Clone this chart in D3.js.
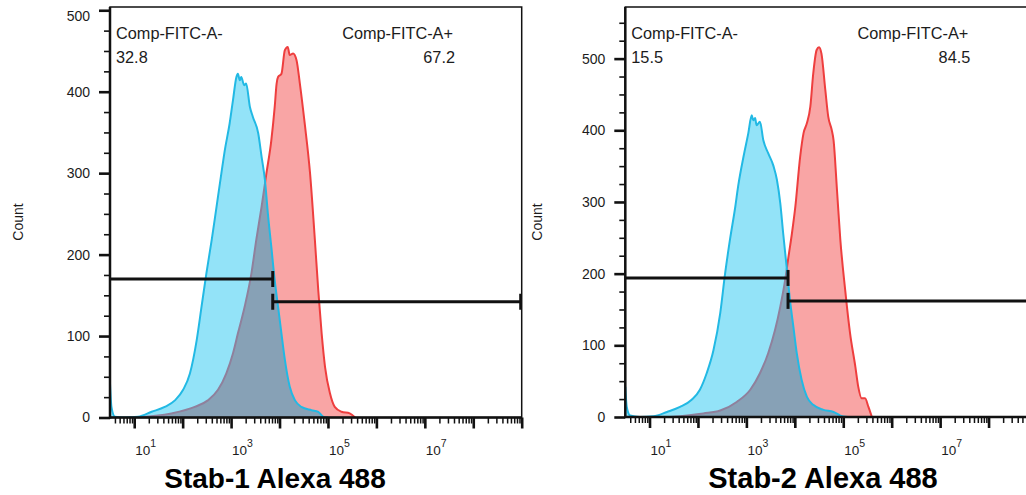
<!DOCTYPE html>
<html>
<head>
<meta charset="utf-8">
<script src="https://cdn.jsdelivr.net/npm/d3@7"></script>
<style>
  body { margin: 0; background: #fff; }
  svg { display: block; }
  text { font-family: Arial, "Liberation Sans", sans-serif; }
</style>
</head>
<body>
<svg id="chart" width="1026" height="495"></svg>
<script>
// Histogram outlines as [log10 Comp-FITC-A intensity, event count]
const stab1Unstained = [[0.5,42],[0.53,13],[0.6,1],[0.8,0],[1.08,1],[1.36,7],[1.63,13],[1.84,21],[2.01,34],[2.15,54],[2.29,95],[2.39,136],[2.49,177],[2.6,218],[2.7,259],[2.8,300],[2.87,328],[2.97,361],[3.04,390],[3.11,418],[3.14,422],[3.18,414],[3.21,418],[3.27,408],[3.31,410],[3.39,381],[3.45,369],[3.56,349],[3.63,320],[3.7,291],[3.76,250],[3.83,210],[3.9,169],[3.97,136],[4.04,103],[4.11,71],[4.21,38],[4.32,21],[4.45,13],[4.66,9],[4.8,7],[4.9,1],[5.0,0]];
const stab1Stained = [[1.0,0],[1.77,5],[2.25,13],[2.52,21],[2.73,34],[2.9,54],[3.04,79],[3.14,103],[3.28,136],[3.42,177],[3.52,218],[3.63,259],[3.73,300],[3.83,340],[3.9,381],[3.94,410],[3.97,418],[4.04,422],[4.11,451],[4.17,455],[4.21,445],[4.28,447],[4.35,439],[4.42,410],[4.52,361],[4.63,300],[4.73,218],[4.8,156],[4.87,103],[4.94,62],[5.04,30],[5.14,13],[5.28,7],[5.45,5],[5.56,0]];
const stab2Unstained = [[0.5,42],[0.53,14],[0.6,2],[0.8,0],[1.08,1],[1.36,7],[1.63,14],[1.87,24],[2.04,38],[2.18,61],[2.32,93],[2.46,145],[2.56,200],[2.66,247],[2.77,293],[2.83,322],[2.94,363],[3.04,396],[3.11,421],[3.14,414],[3.18,417],[3.21,407],[3.28,412],[3.35,386],[3.45,368],[3.56,350],[3.63,331],[3.7,298],[3.76,256],[3.83,210],[3.9,163],[3.97,126],[4.04,89],[4.14,52],[4.25,28],[4.38,17],[4.59,10],[4.8,7],[4.94,2],[5.1,0]];
const stab2Stained = [[1.42,0],[2.11,5],[2.46,9],[2.8,21],[3.08,38],[3.28,61],[3.45,89],[3.59,121],[3.7,154],[3.8,191],[3.87,224],[3.94,256],[4.01,293],[4.11,363],[4.18,396],[4.25,410],[4.32,433],[4.38,479],[4.45,512],[4.5,516],[4.55,507],[4.63,456],[4.69,419],[4.76,401],[4.8,386],[4.87,317],[4.94,247],[5.04,177],[5.14,117],[5.25,70],[5.31,42],[5.38,26],[5.45,26],[5.52,14],[5.59,0]];

// Gates: names, frequencies (% of parent), split point (log10) and marker heights (count)
const gateNames = ["Comp-FITC-A-", "Comp-FITC-A+"];
const stab1GateFreq = ["32.8", "67.2"];
const stab2GateFreq = ["15.5", "84.5"];
const gateSplitLog = 3.86;
const stab1GateLevels = [170, 142];
const stab2GateLevels = [194, 162];

// Axis ticks
const xLabelExponents = [1, 3, 5, 7];
const yMajorTicks = [0, 100, 200, 300, 400, 500];
const xDomainLog = [0.5, 9];

const titles = ["Stab-1 Alexa 488", "Stab-2 Alexa 488"];

const panels = [
  { id: "p1", neg: stab1Unstained, pos: stab1Stained, freq: stab1GateFreq, levels: stab1GateLevels,
    title: titles[0], left: 110, right: 521.7, top: 7, bottom: 417.5, yMax: 504,
    titleX: 275, titleSize: 28, countX: 18 },
  { id: "p2", neg: stab2Unstained, pos: stab2Stained, freq: stab2GateFreq, levels: stab2GateLevels,
    title: titles[1], left: 625.3, right: 1037, top: 7, bottom: 417, yMax: 572,
    titleX: 823, titleSize: 29, countX: 537 }
];

const COLORS = {
  negLine: "#22b9e4", negFill: "#93e3f8",
  posLine: "#ee3e3e", posFill: "#f9a5a5",
  overlapFill: "#87a1b6", posLineHidden: "#8f809c",
  ink: "#111", label: "#1c1c1c"
};

const svg = d3.select("#chart");
const defs = svg.append("defs");

panels.forEach(p => {
  const x = d3.scaleLog().domain(xDomainLog.map(e => Math.pow(10, e))).range([p.left, p.right]);
  const y = d3.scaleLinear().domain([0, p.yMax]).range([p.bottom, p.top]);
  const xv = d => x(Math.pow(10, d[0]));

  const area = d3.area().x(xv).y0(y(0)).y1(d => y(d[1])).curve(d3.curveMonotoneX);
  const line = d3.line().x(xv).y(d => y(d[1])).curve(d3.curveMonotoneX);

  // clip to the plotting region
  defs.append("clipPath").attr("id", p.id + "-plot")
    .append("rect").attr("x", p.left).attr("y", p.top)
    .attr("width", p.right - p.left).attr("height", p.bottom - p.top);
  // clip to the unstained histogram's filled area
  defs.append("clipPath").attr("id", p.id + "-neg")
    .append("path").attr("d", area(p.neg));

  const g = svg.append("g").attr("clip-path", `url(#${p.id}-plot)`);

  g.append("path").attr("d", area(p.pos)).attr("fill", COLORS.posFill);
  g.append("path").attr("d", line(p.pos)).attr("fill", "none")
    .attr("stroke", COLORS.posLine).attr("stroke-width", 2);
  g.append("path").attr("d", area(p.neg)).attr("fill", COLORS.negFill);

  const ov = g.append("g").attr("clip-path", `url(#${p.id}-neg)`);
  ov.append("path").attr("d", area(p.pos)).attr("fill", COLORS.overlapFill);
  ov.append("path").attr("d", line(p.pos)).attr("fill", "none")
    .attr("stroke", COLORS.posLineHidden).attr("stroke-width", 2);

  g.append("path").attr("d", line(p.neg)).attr("fill", "none")
    .attr("stroke", COLORS.negLine).attr("stroke-width", 2);

  // gates
  const xs = x(Math.pow(10, gateSplitLog));
  const gates = [
    { x0: p.left, x1: xs, lvl: p.levels[0], bars: [xs] },
    { x0: xs, x1: p.right, lvl: p.levels[1], bars: [xs, p.right - 1] }
  ];
  gates.forEach(gt => {
    const gy = y(gt.lvl);
    g.append("line").attr("x1", gt.x0).attr("x2", gt.x1).attr("y1", gy).attr("y2", gy)
      .attr("stroke", COLORS.ink).attr("stroke-width", 3);
    gt.bars.forEach(bx => {
      g.append("line").attr("x1", bx).attr("x2", bx).attr("y1", gy - 8).attr("y2", gy + 8)
        .attr("stroke", COLORS.ink).attr("stroke-width", 3);
    });
  });

  // gate labels
  const lab = svg.append("g").attr("fill", COLORS.label).style("font-size", "16.3px");
  lab.append("text").attr("x", p.left + 6).attr("y", 39).text(gateNames[0]);
  lab.append("text").attr("x", p.left + 6).attr("y", 63).text(p.freq[0]);
  lab.append("text").attr("x", p.left + 343).attr("y", 39).attr("text-anchor", "end").text(gateNames[1]);
  lab.append("text").attr("x", p.left + 345).attr("y", 63).attr("text-anchor", "end").text(p.freq[1]);

  // frame
  svg.append("rect").attr("x", p.left).attr("y", p.top)
    .attr("width", p.right - p.left).attr("height", p.bottom - p.top)
    .attr("fill", "none").attr("stroke", COLORS.ink).attr("stroke-width", 1.5);

  // y axis: majors every 100, minors every 25
  const yMinor = d3.range(0, p.yMax + 0.01, 25).filter(v => v % 100 !== 0);
  const yAxisMinor = d3.axisLeft(y).tickValues(yMinor).tickSize(6).tickFormat("");
  const yAxisMajor = d3.axisLeft(y).tickValues(yMajorTicks.filter(v => v <= p.yMax))
    .tickSize(11).tickPadding(9);
  const ya = svg.append("g").attr("transform", `translate(${p.left},0)`);
  ya.append("g").call(yAxisMinor).call(s => s.select(".domain").remove())
    .selectAll("line").attr("stroke", COLORS.ink).attr("stroke-width", 1.6);
  const yMaj = ya.append("g").call(yAxisMajor).call(s => s.select(".domain").remove());
  yMaj.selectAll("line").attr("stroke", COLORS.ink).attr("stroke-width", 2.6);
  yMaj.selectAll("text").attr("fill", COLORS.label).style("font-size", "14px")
    .style("font-family", "Arial, 'Liberation Sans', sans-serif")
    // keep the topmost label inside the frame's height
    .attr("y", v => Math.max(0, p.top + 9 - y(v)));
  ya.append("line").attr("x1", 0).attr("x2", 0).attr("y1", p.top).attr("y2", p.bottom + 1)
    .attr("stroke", COLORS.ink).attr("stroke-width", 2.5);

  // x axis: decades as majors, 2..9 multiples as minors
  const decades = d3.range(1, 10).map(e => Math.pow(10, e)).filter(v => x(v) <= p.right + 0.5);
  const minors = [];
  d3.range(0, 9).forEach(e => d3.range(2, 10).forEach(k => {
    const v = k * Math.pow(10, e);
    if (v >= x.domain()[0] && v <= x.domain()[1]) minors.push(v);
  }));
  const xa = svg.append("g").attr("transform", `translate(0,${p.bottom})`);
  xa.append("g").call(d3.axisBottom(x).tickValues(minors).tickSize(6).tickFormat(""))
    .call(s => s.select(".domain").remove())
    .selectAll("line").attr("stroke", COLORS.ink).attr("stroke-width", 1.5);
  xa.append("g").call(d3.axisBottom(x).tickValues(decades).tickSize(11).tickFormat(""))
    .call(s => s.select(".domain").remove())
    .selectAll("line").attr("stroke", COLORS.ink).attr("stroke-width", 2.6);
  xa.append("line").attr("x1", p.left - 1).attr("x2", p.right).attr("y1", 0).attr("y2", 0)
    .attr("stroke", COLORS.ink).attr("stroke-width", 2.5);

  const xl = svg.append("g").attr("fill", COLORS.label);
  xLabelExponents.forEach(e => {
    const t = xl.append("text").attr("x", x(Math.pow(10, e)) + 1).attr("y", 455)
      .style("font-size", "13.5px");
    t.append("tspan").text("10");
    t.append("tspan").attr("dy", -8).style("font-size", "10.5px").text(e);
  });

  // axis titles
  svg.append("text").attr("transform", `translate(${p.countX},222) rotate(-90)`)
    .attr("text-anchor", "middle").attr("dy", "0.35em").attr("fill", COLORS.label)
    .style("font-size", "14px").text("Count");

  svg.append("text").attr("x", p.titleX).attr("y", 488).attr("text-anchor", "middle")
    .attr("fill", "#000").style("font-size", p.titleSize + "px").style("font-weight", "bold")
    .text(p.title);
});
</script>
</body>
</html>
